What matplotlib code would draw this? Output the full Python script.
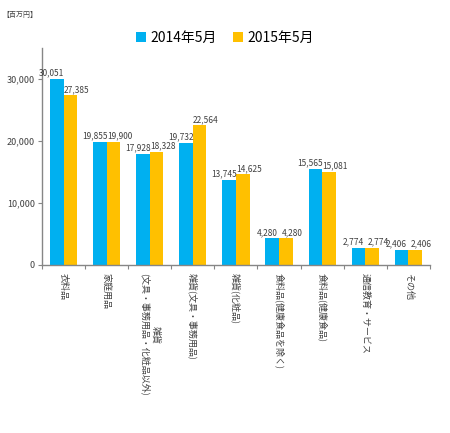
import numpy as np
import matplotlib.pyplot as plt

plt.rcParams['font.family'] = ['Noto Sans CJK JP', 'DejaVu Sans']

categories = ['衣料品', '家庭用品', '雑貨\n(文具・事務用品・化粧品以外)', '雑貨(文具・事務用品)',
              '雑貨(化粧品)', '食料品(健康食品を除く)', '食料品(健康食品)', '通信教育・サービス', 'その他']
may_2014 = [30051, 19855, 17928, 19732, 13745, 4280, 15565, 2774, 2406]
may_2015 = [27385, 19900, 18328, 22564, 14625, 4280, 15081, 2774, 2406]
series_names = ['2014年5月', '2015年5月']

blue = '#00B0F0'
orange = '#FFC000'
gray = '#868686'
text_c = '#404040'

fig = plt.figure(figsize=(4.5, 4.33), dpi=100)
ax = fig.add_axes([0.0933, 0.388, 0.862, 0.5005])

x = np.arange(len(categories))
w = 0.315
b1 = ax.bar(x - w / 2, may_2014, w, color=blue, label=series_names[0])
b2 = ax.bar(x + w / 2, may_2015, w, color=orange, label=series_names[1])

# 数据标签，蓝色稍向左、橙色稍向右
for bars, dx in ((b1, -3.5), (b2, 4.5)):
    for r in bars:
        h = r.get_height()
        ax.annotate(f'{h:,.0f}', (r.get_x() + r.get_width() / 2, h),
                    xytext=(dx, 1), textcoords='offset points',
                    ha='center', va='bottom', fontsize=6, color=text_c)

ax.set_xlim(-0.5, len(categories) - 0.5)
ax.set_ylim(0, 35000)
ax.set_yticks([0, 10000, 20000, 30000])
ax.set_yticklabels([f'{v:,}' for v in [0, 10000, 20000, 30000]], fontsize=6.5, color=text_c)
ax.tick_params(axis='y', length=3, width=0.8, color=gray, pad=2)

ax.set_xticks(x)
ax.set_xticklabels(categories, rotation=-90, fontsize=6.5, color=text_c,
                   va='top', ha='center', multialignment='center')
ax.tick_params(axis='x', length=0, pad=6)
ax.set_xticks(np.arange(-0.5, len(categories)), minor=True)
ax.tick_params(axis='x', which='minor', length=3, width=0.8, color=gray)

for s in ['top', 'right']:
    ax.spines[s].set_visible(False)
for s in ['left', 'bottom']:
    ax.spines[s].set_color(gray)
    ax.spines[s].set_linewidth(1)

fig.legend(loc='center', bbox_to_anchor=(0.5, 0.912), ncol=2, frameon=False,
           fontsize=10, handlelength=0.7, handleheight=0.7, handletextpad=0.3,
           columnspacing=1.2)

fig.text(0.005, 0.965, '【百万円】', fontsize=5, color=text_c, va='center')

fig.savefig('out.png', dpi=100)
